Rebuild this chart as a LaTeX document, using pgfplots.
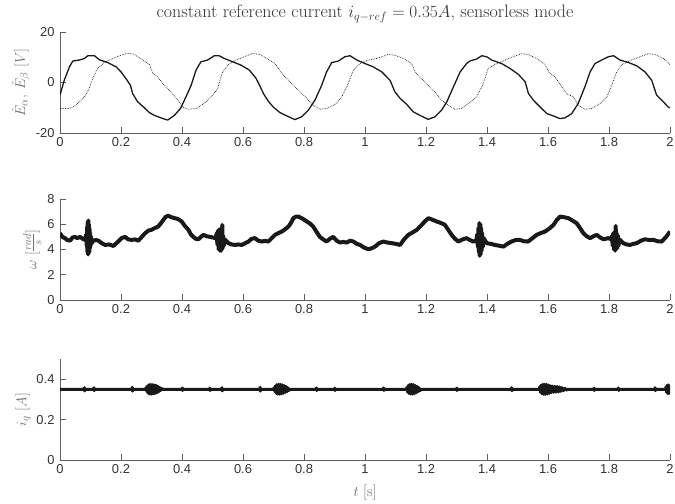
\documentclass[border=0pt]{standalone}
\usepackage{fontspec}
\newfontfamily\helv{Liberation Sans}
\usepackage{pgfplots}
\pgfplotsset{compat=1.18}
\definecolor{axgray}{RGB}{95,95,95}
\definecolor{ticktxt}{RGB}{50,50,50}
\definecolor{lblgray}{RGB}{110,110,110}
\definecolor{curve}{RGB}{25,25,25}

\pgfplotsset{
  mlab/.style={
    scale only axis, width=610bp, height=101bp,
    xmin=0, xmax=2,
    xtick={0,0.2,0.4,0.6,0.8,1,1.2,1.4,1.6,1.8,2},
    axis x line*=bottom, axis y line*=left,
    axis line style={-, draw=axgray, line width=0.6pt},
    tick style={draw=axgray, line width=0.6pt},
    tick align=inside, major tick length=6bp,
    ticklabel style={font=\helv\fontsize{13}{13}\selectfont, text=ticktxt},
    /pgf/number format/assume math mode=true,
    xticklabel style={yshift=-1bp},
    yticklabel style={xshift=-2bp},
    ylabel style={text=lblgray, font=\fontsize{15.5}{16}\selectfont, yshift=-1bp},
  }
}

\begin{document}
\begin{tikzpicture}
\useasboundingbox (0,0) rectangle (675bp,504bp);

% top: back-EMF estimates
\begin{axis}[mlab, at={(60bp,371bp)}, anchor=south west,
    ymin=-20, ymax=20, ytick={-20,0,20},
    ylabel={$\hat{E}_\alpha$, $\hat{E}_\beta$ $[V]$},
    title={constant reference current $i_{q-ref}=0.35A$, sensorless mode},
    title style={font=\fontsize{18}{18}\selectfont, text=ticktxt, yshift=0bp}]
\addplot[curve, line width=1.3pt, line join=round] coordinates {
(0,-5) (0.014,0.9) (0.031,6.2) (0.042,8.5) (0.063,8.9) (0.08,9.5) (0.091,10.6) (0.113,10.6) (0.129,9) (0.156,7.9) (0.184,6.2) (0.2,4.2) (0.216,1.6) (0.231,-1.1) (0.238,-4.4) (0.255,-7.7) (0.274,-9.7) (0.293,-11.9) (0.309,-13) (0.331,-14) (0.353,-14.9) (0.375,-13) (0.395,-10.3) (0.413,-5.7) (0.43,-1.1) (0.446,4.9) (0.462,8.2) (0.484,8.9) (0.506,10.6) (0.522,10.6) (0.539,9.5) (0.566,8.2) (0.593,6.9) (0.621,4.9) (0.643,1.6) (0.656,-1.5) (0.667,-4.4) (0.683,-7.4) (0.699,-9.7) (0.721,-11.9) (0.743,-13.2) (0.77,-14.7) (0.792,-13.6) (0.814,-11) (0.836,-7) (0.858,-1.1) (0.874,4.2) (0.891,7.9) (0.913,8.5) (0.934,10.2) (0.951,10.6) (0.973,8.9) (1.0,7.5) (1.027,6.2) (1.055,4.2) (1.082,0.9) (1.098,-3.7) (1.115,-6.3) (1.137,-8.7) (1.158,-11.6) (1.18,-13) (1.207,-14.6) (1.229,-13.6) (1.251,-11) (1.268,-7.7) (1.29,-1.7) (1.312,4.2) (1.333,7.5) (1.344,8.5) (1.366,9.3) (1.383,10.6) (1.399,10.2) (1.415,8.9) (1.448,7.5) (1.475,5.6) (1.503,3.2) (1.525,0.3) (1.536,-4.4) (1.552,-7) (1.574,-9.7) (1.596,-12.3) (1.617,-13.2) (1.639,-14.3) (1.656,-14) (1.678,-12.3) (1.699,-8.3) (1.721,-1.7) (1.738,4.2) (1.754,7.5) (1.776,8.9) (1.798,10.2) (1.815,10.6) (1.836,8.9) (1.864,7.9) (1.891,6.6) (1.918,4.2) (1.94,0.9) (1.956,-5) (1.973,-7) (1.994,-9.7) (2.0,-10)
};
\addplot[curve, line width=0.7pt, densely dotted] coordinates {
(0,-10.3) (0.031,-10.3) (0.052,-9) (0.08,-5.7) (0.096,-2.4) (0.107,1.6) (0.124,5.6) (0.145,7.9) (0.173,9.5) (0.2,10.8) (0.222,11.6) (0.244,11.1) (0.271,8.9) (0.293,7.1) (0.304,3.6) (0.32,2.2) (0.342,-1.1) (0.364,-3.7) (0.386,-7) (0.402,-9.7) (0.419,-10.6) (0.446,-10.3) (0.473,-8.3) (0.495,-5.7) (0.517,-2.4) (0.533,4.2) (0.55,6.9) (0.577,8.9) (0.604,10.2) (0.632,11.5) (0.656,11.1) (0.678,9.5) (0.705,7.5) (0.727,3.6) (0.743,1.6) (0.765,-1.1) (0.787,-3.7) (0.809,-6.3) (0.83,-9) (0.852,-10.6) (0.874,-10.3) (0.902,-8.7) (0.924,-5.7) (0.945,-0.4) (0.962,4.9) (0.984,7.5) (1.011,8.9) (1.038,9.5) (1.076,11.1) (1.098,10.8) (1.126,9.5) (1.153,7.5) (1.164,4.2) (1.18,2.2) (1.207,-1.1) (1.229,-3.7) (1.251,-7) (1.273,-9) (1.295,-10.6) (1.317,-10.3) (1.344,-7.9) (1.366,-5.7) (1.388,-0.4) (1.404,5.6) (1.426,7.1) (1.459,8.9) (1.486,10.2) (1.514,11.4) (1.535,11.1) (1.563,9.5) (1.59,7.1) (1.606,3.6) (1.623,2.2) (1.645,-1.7) (1.661,-4.4) (1.683,-5.7) (1.699,-9) (1.721,-10.6) (1.743,-10.3) (1.771,-8.3) (1.793,-5.7) (1.809,-1.1) (1.825,4.2) (1.842,7.1) (1.874,8.9) (1.902,10.2) (1.929,11.4) (1.951,11.1) (1.978,9.5) (2.0,7.1)
};
\end{axis}

% middle: speed
\begin{axis}[mlab, at={(60bp,204bp)}, anchor=south west,
    ymin=0, ymax=8, ytick={0,2,4,6,8},
    ylabel={$\omega$ $[\frac{rad}{s}]$}]
\addplot[curve, line width=4pt, line join=round] coordinates {
(0,5.29) (0.008,5.0) (0.016,4.9) (0.024,4.75) (0.033,4.7) (0.041,4.95) (0.049,5.0) (0.057,4.9) (0.066,5.0) (0.074,4.85) (0.082,4.76) (0.086,5.2) (0.088,4.2) (0.089,5.8) (0.090,3.8) (0.091,6.2) (0.092,3.6) (0.093,6.3) (0.094,3.7) (0.095,6.0) (0.096,3.8) (0.097,5.6) (0.098,4.1) (0.099,5.3) (0.100,4.3) (0.102,5.0) (0.104,4.5) (0.109,4.7) (0.118,4.75) (0.126,4.7) (0.137,4.5) (0.148,4.36) (0.162,4.4) (0.175,4.28) (0.191,4.63) (0.202,4.9) (0.213,5.0) (0.224,4.8) (0.235,4.76) (0.246,4.8) (0.257,4.7) (0.268,5.0) (0.279,5.29) (0.29,5.5) (0.3,5.56) (0.311,5.7) (0.322,5.82) (0.33,6.05) (0.339,6.35) (0.347,6.6) (0.355,6.67) (0.366,6.55) (0.377,6.48) (0.388,6.4) (0.399,6.22) (0.41,5.85) (0.421,5.56) (0.429,5.2) (0.437,5.0) (0.445,4.85) (0.454,4.81) (0.462,5.0) (0.47,5.16) (0.481,5.05) (0.492,5.0) (0.510,4.9) (0.514,5.3) (0.516,4.4) (0.518,5.5) (0.520,4.0) (0.522,5.6) (0.524,3.9) (0.526,5.5) (0.528,3.9) (0.530,5.4) (0.531,4.0) (0.532,5.95) (0.533,4.1) (0.535,5.1) (0.537,4.3) (0.540,4.8) (0.552,4.5) (0.563,4.4) (0.574,4.36) (0.585,4.4) (0.596,4.36) (0.607,4.5) (0.618,4.63) (0.628,4.85) (0.639,4.9) (0.65,4.7) (0.661,4.63) (0.672,4.68) (0.683,4.63) (0.694,4.9) (0.705,5.16) (0.716,5.3) (0.727,5.42) (0.738,5.6) (0.749,5.82) (0.757,6.1) (0.765,6.48) (0.773,6.6) (0.781,6.61) (0.795,6.45) (0.809,6.22) (0.82,6.05) (0.83,5.82) (0.841,5.4) (0.852,5.0) (0.863,4.8) (0.874,4.63) (0.885,4.85) (0.896,5.0) (0.907,4.7) (0.918,4.55) (0.929,4.6) (0.94,4.55) (0.951,4.7) (0.962,4.63) (0.973,4.45) (0.984,4.36) (0.997,4.15) (1.011,4.02) (1.022,4.1) (1.033,4.23) (1.046,4.5) (1.06,4.63) (1.074,4.55) (1.088,4.5) (1.101,4.45) (1.115,4.36) (1.128,4.8) (1.142,5.16) (1.156,5.35) (1.17,5.56) (1.186,5.95) (1.197,6.25) (1.208,6.48) (1.222,6.35) (1.235,6.22) (1.249,6.1) (1.262,5.95) (1.273,5.55) (1.284,5.16) (1.295,4.85) (1.306,4.63) (1.32,4.8) (1.333,4.9) (1.344,4.75) (1.355,4.63) (1.365,4.7) (1.368,5.2) (1.370,4.2) (1.372,5.7) (1.373,3.8) (1.375,6.1) (1.376,3.5) (1.378,6.0) (1.379,3.6) (1.381,5.7) (1.382,3.9) (1.384,5.3) (1.386,4.2) (1.389,4.9) (1.399,4.5) (1.412,4.45) (1.426,4.36) (1.44,4.3) (1.454,4.23) (1.467,4.45) (1.48,4.63) (1.494,4.75) (1.508,4.76) (1.521,4.65) (1.535,4.63) (1.549,4.9) (1.563,5.16) (1.576,5.3) (1.59,5.42) (1.604,5.65) (1.618,5.95) (1.629,6.35) (1.64,6.61) (1.654,6.55) (1.667,6.48) (1.68,6.3) (1.694,6.08) (1.705,5.7) (1.716,5.29) (1.727,5.05) (1.738,4.9) (1.749,5.05) (1.76,5.16) (1.771,4.95) (1.782,4.81) (1.798,4.9) (1.808,4.8) (1.810,5.1) (1.812,4.3) (1.814,5.3) (1.816,4.0) (1.818,5.4) (1.820,3.9) (1.822,5.87) (1.823,4.0) (1.825,5.3) (1.827,4.1) (1.829,5.1) (1.831,4.3) (1.834,4.8) (1.847,4.5) (1.858,4.4) (1.869,4.36) (1.88,4.45) (1.891,4.5) (1.905,4.7) (1.918,4.81) (1.932,4.75) (1.946,4.76) (1.96,4.65) (1.973,4.63) (1.987,5.0) (2.0,5.42)
};
\end{axis}

% bottom: q-axis current
\begin{axis}[mlab, at={(60bp,44bp)}, anchor=south west,
    ymin=0, ymax=0.5, ytick={0,0.2,0.4},
    ylabel={$i_q$ $[A]$},
    xlabel={$t$ [s]},
    xlabel style={text=lblgray, font=\fontsize{15.5}{16}\selectfont, yshift=-4bp}]
\addplot[curve, line width=3pt, line join=round] coordinates {
(0,0.35) (0.05,0.35) (0.079,0.35) (0.080,0.358) (0.081,0.342) (0.082,0.35) (0.110,0.35) (0.111,0.358) (0.112,0.343) (0.113,0.35) (0.236,0.35) (0.237,0.36) (0.238,0.341) (0.239,0.35) (0.280,0.35) (0.283,0.36) (0.285,0.338) (0.287,0.367) (0.289,0.331) (0.291,0.372) (0.293,0.327) (0.296,0.374) (0.299,0.326) (0.302,0.374) (0.305,0.327) (0.308,0.372) (0.311,0.329) (0.314,0.37) (0.317,0.332) (0.320,0.366) (0.323,0.337) (0.326,0.36) (0.329,0.343) (0.332,0.355) (0.336,0.35) (0.40,0.35) (0.401,0.357) (0.402,0.344) (0.403,0.35) (0.49,0.35) (0.491,0.356) (0.492,0.344) (0.493,0.35) (0.53,0.35) (0.531,0.358) (0.532,0.342) (0.533,0.35) (0.655,0.35) (0.656,0.36) (0.657,0.341) (0.658,0.35) (0.700,0.35) (0.703,0.36) (0.705,0.337) (0.707,0.368) (0.709,0.33) (0.711,0.373) (0.714,0.326) (0.717,0.375) (0.720,0.326) (0.723,0.374) (0.726,0.327) (0.729,0.372) (0.732,0.33) (0.735,0.368) (0.738,0.334) (0.741,0.364) (0.744,0.338) (0.747,0.358) (0.750,0.344) (0.754,0.35) (0.84,0.35) (0.841,0.357) (0.842,0.344) (0.843,0.35) (0.90,0.35) (0.901,0.356) (0.902,0.344) (0.903,0.35) (1.06,0.35) (1.061,0.357) (1.062,0.344) (1.063,0.35) (1.135,0.35) (1.138,0.36) (1.140,0.336) (1.142,0.369) (1.144,0.329) (1.147,0.374) (1.150,0.326) (1.153,0.375) (1.156,0.326) (1.159,0.373) (1.162,0.329) (1.165,0.369) (1.168,0.333) (1.171,0.364) (1.174,0.338) (1.177,0.358) (1.180,0.343) (1.184,0.35) (1.30,0.35) (1.301,0.356) (1.302,0.344) (1.303,0.35) (1.48,0.35) (1.481,0.358) (1.482,0.343) (1.483,0.35) (1.570,0.35) (1.573,0.362) (1.575,0.335) (1.577,0.37) (1.580,0.328) (1.583,0.375) (1.586,0.325) (1.589,0.375) (1.592,0.325) (1.595,0.374) (1.598,0.327) (1.601,0.371) (1.604,0.33) (1.607,0.368) (1.610,0.333) (1.614,0.366) (1.618,0.335) (1.622,0.365) (1.626,0.336) (1.630,0.364) (1.634,0.337) (1.638,0.362) (1.642,0.34) (1.646,0.358) (1.650,0.343) (1.655,0.355) (1.660,0.346) (1.666,0.35) (1.75,0.35) (1.751,0.356) (1.752,0.344) (1.753,0.35) (1.83,0.35) (1.831,0.357) (1.832,0.344) (1.833,0.35) (1.95,0.35) (1.951,0.358) (1.952,0.343) (1.953,0.35) (1.985,0.35) (1.987,0.362) (1.989,0.335) (1.991,0.37) (1.993,0.328) (1.995,0.372) (1.997,0.33) (1.999,0.365) (2.0,0.35)
};
\end{axis}
\end{tikzpicture}
\end{document}
